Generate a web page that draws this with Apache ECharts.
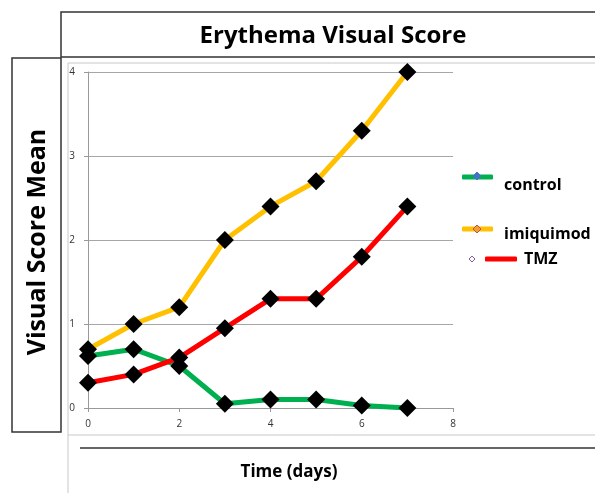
<!DOCTYPE html>
<html>
<head>
<meta charset="utf-8">
<script src="https://cdn.jsdelivr.net/npm/echarts@6/dist/echarts.min.js"></script>
<style>
  html, body { margin: 0; padding: 0; background: #fff; }
  #chart { width: 595px; height: 493px; }
</style>
</head>
<body>
<div id="chart"></div>
<script>
const days = [0, 1, 2, 3, 4, 5, 6, 7]
const control = [0.62, 0.7, 0.5, 0.05, 0.1, 0.1, 0.03, 0.0]
const imiquimod = [0.7, 1.0, 1.2, 2.0, 2.4, 2.7, 3.3, 4.0]
const tmz = [0.3, 0.4, 0.6, 0.95, 1.3, 1.3, 1.8, 2.4]

const chart = echarts.init(document.getElementById('chart'))

const pairs = (ys) => days.map((d, i) => [d, ys[i]])

const makeSeries = (name, ys, color) => ({
  name,
  type: 'line',
  data: pairs(ys),
  symbol: 'diamond',
  symbolSize: 18,
  itemStyle: { color: '#000' },
  lineStyle: { color, width: 5 },
  emphasis: { disabled: true },
  animation: false
})

// legend label, nudged below its line like in the original
const legendText = (padTop, padLeft) => ({
  color: '#000',
  fontFamily: 'Open Sans',
  fontWeight: 'bold',
  fontSize: 16,
  rich: {
    t: {
      color: '#000',
      fontFamily: 'Open Sans',
      fontWeight: 'bold',
      fontSize: 16,
      lineHeight: 22,
      padding: [padTop, 0, 0, padLeft]
    }
  }
})

// small diamond for the legend decorations
const diamond = (cx, cy, r, fill, stroke) => ({
  type: 'polygon',
  shape: { points: [[cx, cy - r], [cx + r, cy], [cx, cy + r], [cx - r, cy]] },
  style: { fill, stroke, lineWidth: 1 },
  silent: true,
  z: 100
})

const option = {
  backgroundColor: '#fff',
  grid: { left: 88, right: 142, top: 72, bottom: 85 },
  xAxis: {
    type: 'value',
    min: 0,
    max: 8,
    interval: 2,
    splitLine: { show: false },
    axisLine: { lineStyle: { color: '#999', width: 1 } },
    axisTick: { show: true, length: 4, lineStyle: { color: '#999' } },
    axisLabel: { color: '#333', fontSize: 10, fontFamily: 'Open Sans', margin: 11 }
  },
  yAxis: {
    type: 'value',
    min: 0,
    max: 4,
    interval: 1,
    splitLine: { lineStyle: { color: '#a6a6a6', width: 1 } },
    axisLine: { show: true, lineStyle: { color: '#999', width: 1 } },
    axisTick: { show: true, length: 4, lineStyle: { color: '#999' } },
    axisLabel: { color: '#333', fontSize: 10, fontFamily: 'Open Sans', margin: 13 }
  },
  legend: [
    {
      left: 462, top: 161, padding: 0, icon: 'roundRect', itemWidth: 31, itemHeight: 5,
      data: [{ name: 'control', itemStyle: { color: '#00b050' } }],
      formatter: '{t|{name}}',
      textStyle: legendText(16, 6), selectedMode: false
    },
    {
      left: 462, top: 216, padding: 0, icon: 'roundRect', itemWidth: 31, itemHeight: 5,
      data: [{ name: 'imiquimod', itemStyle: { color: '#ffc000' } }],
      formatter: '{t|{name}}',
      textStyle: legendText(10, 6), selectedMode: false
    },
    {
      left: 485, top: 251, padding: 0, icon: 'roundRect', itemWidth: 32, itemHeight: 5,
      data: [{ name: 'TMZ', itemStyle: { color: '#ff0000' } }],
      formatter: '{t|{name}}',
      textStyle: legendText(0, 2), selectedMode: false
    }
  ],
  graphic: [
    // title box
    { type: 'rect', shape: { x: 61, y: 12, width: 560, height: 45 }, style: { fill: 'none', stroke: '#333', lineWidth: 1.5 }, silent: true },
    // y label box
    { type: 'rect', shape: { x: 12, y: 58, width: 49, height: 374 }, style: { fill: 'none', stroke: '#333', lineWidth: 1.5 }, silent: true },
    // plot frame
    { type: 'line', shape: { x1: 68, y1: 63, x2: 595, y2: 63 }, style: { stroke: '#c8c8c8', lineWidth: 1 }, silent: true },
    { type: 'line', shape: { x1: 68, y1: 63, x2: 68, y2: 493 }, style: { stroke: '#c8c8c8', lineWidth: 1 }, silent: true },
    { type: 'line', shape: { x1: 68, y1: 435, x2: 595, y2: 435 }, style: { stroke: '#c8c8c8', lineWidth: 1 }, silent: true },
    { type: 'line', shape: { x1: 80, y1: 448, x2: 595, y2: 448 }, style: { stroke: '#333', lineWidth: 1.5 }, silent: true },
    // titles
    {
      type: 'text', x: 333, y: 36,
      style: { text: 'Erythema Visual Score', fill: '#000', font: 'bold 24px "Open Sans"', textAlign: 'center', textVerticalAlign: 'middle' },
      silent: true
    },
    {
      type: 'text', x: 289, y: 472,
      style: { text: 'Time (days)', fill: '#000', font: 'bold 17px "Open Sans"', textAlign: 'center', textVerticalAlign: 'middle' },
      silent: true
    },
    {
      type: 'text', x: 38, y: 242, rotation: Math.PI / 2,
      style: { text: 'Visual Score Mean', fill: '#000', font: 'bold 25px "Open Sans"', textAlign: 'center', textVerticalAlign: 'middle' },
      silent: true
    },
    // legend marker decorations
    diamond(477, 176, 4, '#4472c4', '#4472c4'),
    diamond(477, 229, 4, '#f0a030', '#c0504d'),
    diamond(472, 259, 3, '#fff', '#8064a2')
  ],
  series: [
    makeSeries('control', control, '#00b050'),
    makeSeries('imiquimod', imiquimod, '#ffc000'),
    makeSeries('TMZ', tmz, '#ff0000')
  ]
}

chart.setOption(option)
</script>
</body>
</html>
